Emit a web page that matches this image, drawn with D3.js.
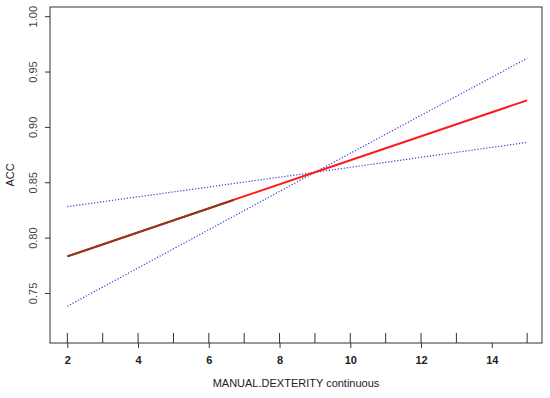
<!DOCTYPE html>
<html>
<head>
<meta charset="utf-8">
<script src="https://cdn.jsdelivr.net/npm/d3@7"></script>
<style>
    body { margin: 0; background: #fff; }
    text { font-family: "Liberation Sans", Arial, sans-serif; }
</style>
</head>
<body>
<svg id="chart" width="550" height="398"></svg>
<script>
// Values
const xPoints = [2, 9, 15];
const fitValues = [0.783, 0.859, 0.924];
const upperValues = [0.738, 0.859, 0.962];   // steeper dotted bound
const lowerValues = [0.828, 0.859, 0.886];   // flatter dotted bound
const brownEnd = 6.7;                        // dark overlay on the fit line ends here
const rugValues = [2, 3, 4, 5, 6, 7, 8, 9, 10, 11, 12, 13, 15];
const xTicks = [2, 4, 6, 8, 10, 12, 14];
const yTicks = [0.75, 0.80, 0.85, 0.90, 0.95, 1.00];

const svg = d3.select('#chart');
const box = {left: 50, right: 542, top: 7, bottom: 343};

const x = d3.scaleLinear().domain([1.51, 15.42]).range([box.left, box.right]);
const y = d3.scaleLinear().domain([0.7048, 1.0083]).range([box.bottom, box.top]);

const line = d3.line().x(d => x(d[0])).y(d => y(d[1]));

// Dotted bounds
[upperValues, lowerValues].forEach(vals => {
    svg.append('path')
        .datum(xPoints.map((v, i) => [v, vals[i]]))
        .attr('d', line)
        .attr('fill', 'none')
        .attr('stroke', '#3a3ad0')
        .attr('stroke-width', 1.2)
        .attr('stroke-dasharray', '1.2,1.8');
});

// Fit line
const fit = xPoints.map((v, i) => [v, fitValues[i]]);
svg.append('path')
    .datum(fit)
    .attr('d', line)
    .attr('fill', 'none')
    .attr('stroke', '#ff1a1a')
    .attr('stroke-width', 2);

// brownish overlay on the left part of the fit line
const fitAt = d3.scaleLinear().domain(xPoints).range(fitValues);
svg.append('path')
    .datum([[xPoints[0], fitValues[0]], [brownEnd, fitAt(brownEnd)]])
    .attr('d', line)
    .attr('fill', 'none')
    .attr('stroke', '#8a3a1c')
    .attr('stroke-width', 2);

// Frame
svg.append('rect')
    .attr('x', box.left)
    .attr('y', box.top)
    .attr('width', box.right - box.left)
    .attr('height', box.bottom - box.top)
    .attr('fill', 'none')
    .attr('stroke', '#333')
    .attr('stroke-width', 1);

// Rug inside the bottom
svg.selectAll('line.rug')
    .data(rugValues)
    .enter()
    .append('line')
    .attr('class', 'rug')
    .attr('x1', d => x(d))
    .attr('x2', d => x(d))
    .attr('y1', box.bottom)
    .attr('y2', box.bottom - 10)
    .attr('stroke', '#333')
    .attr('stroke-width', 1);

// X axis
const xAxis = d3.axisBottom(x).tickValues(xTicks).tickSize(5).tickPadding(8).tickFormat(d3.format('d'));
const gx = svg.append('g')
    .attr('transform', `translate(0, ${box.bottom})`)
    .call(xAxis);
gx.select('.domain').remove();
gx.selectAll('.tick line').attr('stroke', '#333');
gx.selectAll('.tick text')
    .style('font-size', '11px')
    .style('font-weight', 'bold')
    .attr('fill', '#222');

// Y axis with rotated labels
const yAxis = d3.axisLeft(y).tickValues(yTicks).tickSize(5).tickFormat(d3.format('.2f'));
const gy = svg.append('g')
    .attr('transform', `translate(${box.left}, 0)`)
    .call(yAxis);
gy.select('.domain').remove();
gy.selectAll('.tick line').attr('stroke', '#333');
gy.selectAll('.tick text')
    .attr('x', null)
    .attr('dy', null)
    .attr('text-anchor', 'middle')
    .attr('transform', 'translate(-13, 0) rotate(-90)')
    .style('font-size', '11px')
    .attr('fill', '#444');

// Axis titles
svg.append('text')
    .attr('x', (box.left + box.right) / 2)
    .attr('y', 387)
    .attr('text-anchor', 'middle')
    .style('font-size', '11px')
    .attr('fill', '#222')
    .text('MANUAL.DEXTERITY continuous');

svg.append('text')
    .attr('transform', `translate(14, ${(box.top + box.bottom) / 2}) rotate(-90)`)
    .attr('text-anchor', 'middle')
    .style('font-size', '11px')
    .attr('fill', '#222')
    .text('ACC');
</script>
</body>
</html>
